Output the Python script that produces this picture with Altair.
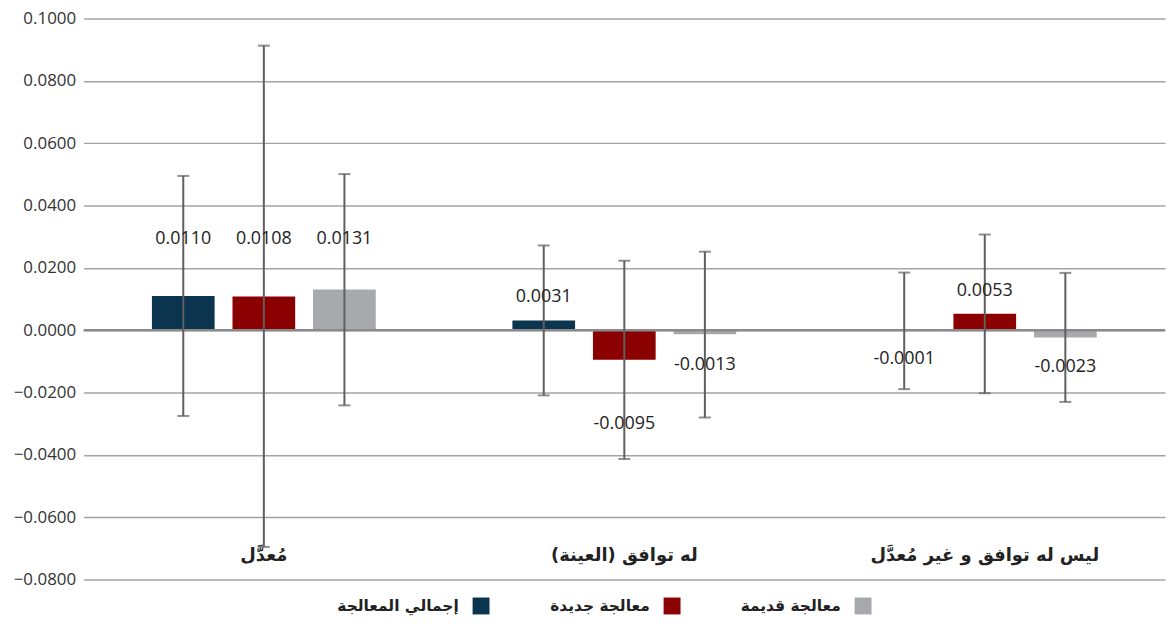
import altair as alt
import pandas as pd

groups = ["مُعدَّل", "له توافق (العينة)", "ليس له توافق و غير مُعدَّل"]
series = ["إجمالي المعالجة", "معالجة جديدة", "معالجة قديمة"]
colors = ["#0B354F", "#8B0000", "#A7A9AC"]

# values per series, in group order
total_vals = [0.0110, 0.0031, -0.0001]
new_vals = [0.0108, -0.0095, 0.0053]
old_vals = [0.0131, -0.0013, -0.0023]

# error bar bounds
total_lo = [-0.0275, -0.0209, -0.0189]
total_hi = [0.0495, 0.0272, 0.0185]
new_lo = [-0.0695, -0.0413, -0.0202]
new_hi = [0.0913, 0.0223, 0.0307]
old_lo = [-0.0241, -0.0280, -0.0230]
old_hi = [0.0501, 0.0252, 0.0184]

# where each value label sits (data units)
total_label_at = [0.0294, 0.0105, -0.0093]
new_label_at = [0.0294, -0.0300, 0.0125]
old_label_at = [0.0294, -0.0112, -0.0118]

y_ticks = [-0.08, -0.06, -0.04, -0.02, 0.0, 0.02, 0.04, 0.06, 0.08, 0.10]

rows = []
for s, vals, lo, hi, la in [
    (series[0], total_vals, total_lo, total_hi, total_label_at),
    (series[1], new_vals, new_lo, new_hi, new_label_at),
    (series[2], old_vals, old_lo, old_hi, old_label_at),
]:
    for g, v, l, h, a in zip(groups, vals, lo, hi, la):
        rows.append({"group": g, "series": s, "value": v, "lo": l, "hi": h,
                     "label_at": a, "label": f"{v:.4f}"})
df = pd.DataFrame(rows)

PLOT_W = 1087
x_enc = alt.X("group:N", sort=groups,
              scale=alt.Scale(paddingInner=0, paddingOuter=0),
              axis=alt.Axis(title=None, labelAngle=0, domain=False, ticks=False,
                            labelPadding=-33, labelFontSize=18, labelFontWeight="bold",
                            labelColor="#222222", labelFont="DejaVu Sans", labelLimit=500,
                            grid=False))
xo_enc = alt.XOffset("series:N", sort=series,
                     scale=alt.Scale(paddingInner=0.222, paddingOuter=0.848))
y_scale = alt.Scale(domain=[-0.08, 0.10], nice=False, zero=False)

base = alt.Chart(df)

bars = base.mark_bar().encode(
    x=x_enc, xOffset=xo_enc,
    y=alt.Y("value:Q", scale=y_scale,
            axis=alt.Axis(title=None, values=y_ticks, format=".4f", domain=False,
                          ticks=False, labelFontSize=17, labelColor="#333333",
                          labelFont="Open Sans", labelPadding=8,
                          gridColor="#a3a3a3", gridWidth=1.5)),
    color=alt.Color("series:N", sort=series,
                    scale=alt.Scale(domain=series, range=colors),
                    legend=alt.Legend(title=None, orient="none", direction="horizontal",
                                      legendX=391, legendY=582,
                                      symbolType="square", symbolSize=289,
                                      symbolStrokeWidth=0, symbolOpacity=1,
                                      labelAlign="right", labelOffset={"expr": "-31"},
                                      labelFontSize=15.5, labelFontWeight="bold",
                                      labelFont="DejaVu Sans", labelColor="#222222",
                                      columnPadding=60)),
)

zero = alt.Chart(pd.DataFrame({"z": [0.0]})).mark_rule(color="#8a8a8a", strokeWidth=2.5).encode(
    y=alt.Y("z:Q", scale=y_scale)
)

err = base.mark_rule(color="#5f5f5f", strokeWidth=2).encode(
    x=x_enc, xOffset=xo_enc,
    y=alt.Y("lo:Q", scale=y_scale), y2="hi:Q",
)
cap_lo = base.mark_tick(orient="horizontal", size=12, thickness=2, color="#5f5f5f").encode(
    x=x_enc, xOffset=xo_enc, y=alt.Y("lo:Q", scale=y_scale)
)
cap_hi = base.mark_tick(orient="horizontal", size=12, thickness=2, color="#5f5f5f").encode(
    x=x_enc, xOffset=xo_enc, y=alt.Y("hi:Q", scale=y_scale)
)
labels = base.mark_text(fontSize=18, color="#222222", font="Open Sans", baseline="middle").encode(
    x=x_enc, xOffset=xo_enc, y=alt.Y("label_at:Q", scale=y_scale), text="label:N"
)

chart = alt.layer(bars, zero, err, cap_lo, cap_hi, labels).properties(
    width=PLOT_W, height=564,
    padding={"left": 5, "top": 0, "right": 0, "bottom": 0},
).configure_view(stroke=None)

chart.save("out.html", embed_options={"renderer": "svg", "actions": False})
